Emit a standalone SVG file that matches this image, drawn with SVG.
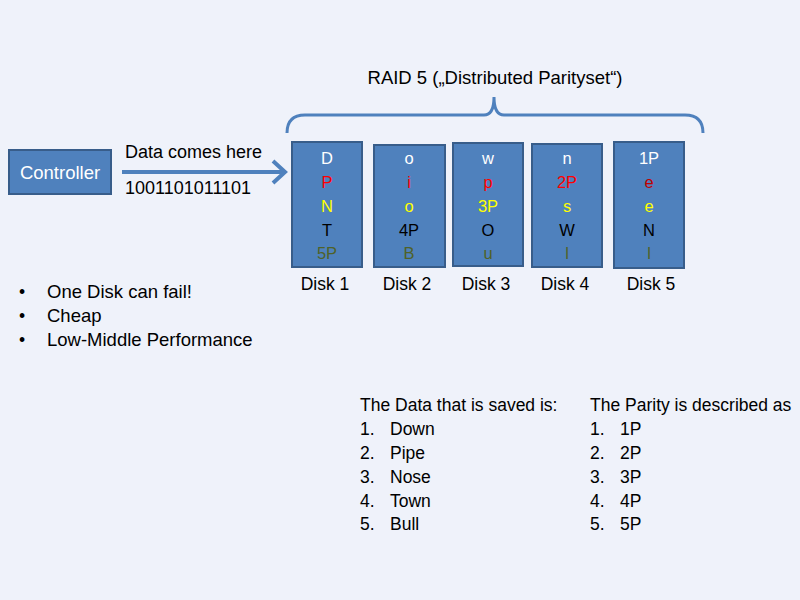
<svg xmlns="http://www.w3.org/2000/svg" width="800" height="600" viewBox="0 0 800 600">
<defs>
<style>
text{font-family:"Liberation Sans",Arial,sans-serif;font-size:17.5px;fill:#000}
.box{fill:#4f81bd;stroke:#385d8a;stroke-width:2}
.c{text-anchor:middle}
.d{font-size:16.5px}
.w{fill:#ffffff}
.r{fill:#ff0000}
.dr{fill:#c00000}
.y{fill:#ffff00}
.k{fill:#000000}
.g{fill:#4f6228}
.conn{fill:none;stroke:#4f81bd;stroke-width:4}
</style>
</defs>
<rect width="800" height="600" fill="#eff2fa"/>
<text class="c" x="495" y="84" style="font-size:18.5px">RAID 5 („Distributed Parityset“)</text>
<g id="connectors">
<path class="conn" d="M122,172 L283,172 M273,161 L285,172 L273,183"/>
<path class="conn" style="stroke-width:3" d="M287,133 Q287,115 305,115 L484,115 Q494,115 494,97 Q494,115 504,115 L685,115 Q703,115 703,133"/>
</g>
<g id="controller">
<rect class="box" x="9" y="150" width="102" height="44"/>
<text class="c w" x="60" y="179" style="font-size:18.5px">Controller</text>
</g>
<g id="data-label">
<text x="125" y="158" style="font-size:18px">Data comes here</text>
<text x="125" y="194" style="font-size:18px">1001101011101</text>
</g>
<g id="disk1">
<rect class="box" x="292" y="142" width="70" height="125"/>
<text class="c w d" x="327" y="164">D</text>
<text class="c r d" x="327" y="188">P</text>
<text class="c y d" x="327" y="212">N</text>
<text class="c k d" x="327" y="236">T</text>
<text class="c g d" x="327" y="259">5P</text>
<text class="c" x="325" y="290">Disk 1</text>
</g>
<g id="disk2">
<rect class="box" x="374" y="145" width="71" height="122"/>
<text class="c w d" x="409" y="164">o</text>
<text class="c r d" x="409" y="188">i</text>
<text class="c y d" x="409" y="212">o</text>
<text class="c k d" x="409" y="236">4P</text>
<text class="c g d" x="409" y="259">B</text>
<text class="c" x="407" y="290">Disk 2</text>
</g>
<g id="disk3">
<rect class="box" x="453" y="143" width="70" height="123"/>
<text class="c w d" x="488" y="164">w</text>
<text class="c r d" x="488" y="188">p</text>
<text class="c y d" x="488" y="212">3P</text>
<text class="c k d" x="488" y="236">O</text>
<text class="c g d" x="488" y="259">u</text>
<text class="c" x="486" y="290">Disk 3</text>
</g>
<g id="disk4">
<rect class="box" x="532" y="144" width="70" height="123"/>
<text class="c w d" x="567" y="164">n</text>
<text class="c r d" x="567" y="188">2P</text>
<text class="c y d" x="567" y="212">s</text>
<text class="c k d" x="567" y="236">W</text>
<text class="c g d" x="567" y="259">l</text>
<text class="c" x="565" y="290">Disk 4</text>
</g>
<g id="disk5">
<rect class="box" x="614" y="142" width="70" height="126"/>
<text class="c w d" x="649" y="164">1P</text>
<text class="c dr d" x="649" y="188">e</text>
<text class="c y d" x="649" y="212">e</text>
<text class="c k d" x="649" y="236">N</text>
<text class="c g d" x="649" y="259">l</text>
<text class="c" x="651" y="290">Disk 5</text>
</g>
<g id="bullets">
<text x="19" y="298">•</text><text x="47" y="298" style="font-size:18.5px">One Disk can fail!</text>
<text x="19" y="322">•</text><text x="47" y="322" style="font-size:18.5px">Cheap</text>
<text x="19" y="346">•</text><text x="47" y="346" style="font-size:18.5px">Low-Middle Performance</text>
</g>
<g id="data-list" style="font-size:19px">
<text x="360" y="411">The Data that is saved is:</text>
<text x="360" y="435">1.</text><text x="390" y="435">Down</text>
<text x="360" y="459">2.</text><text x="390" y="459">Pipe</text>
<text x="360" y="483">3.</text><text x="390" y="483">Nose</text>
<text x="360" y="507">4.</text><text x="390" y="507">Town</text>
<text x="360" y="530">5.</text><text x="390" y="530">Bull</text>
</g>
<g id="parity-list">
<text x="590" y="411">The Parity is described as</text>
<text x="590" y="435">1.</text><text x="620" y="435">1P</text>
<text x="590" y="459">2.</text><text x="620" y="459">2P</text>
<text x="590" y="483">3.</text><text x="620" y="483">3P</text>
<text x="590" y="507">4.</text><text x="620" y="507">4P</text>
<text x="590" y="530">5.</text><text x="620" y="530">5P</text>
</g>
</svg>
